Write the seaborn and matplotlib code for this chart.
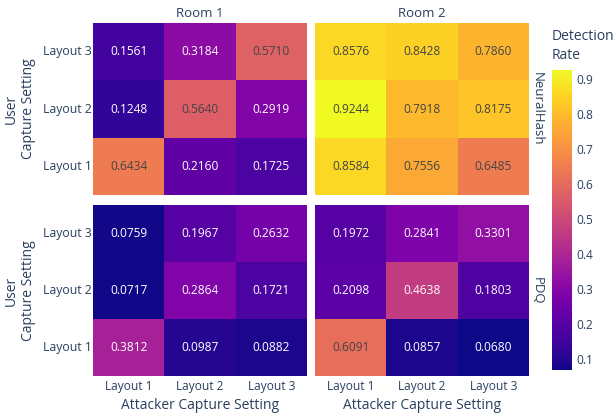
import numpy as np
import pandas as pd
import seaborn as sns
import matplotlib.pyplot as plt

# Data: rows = user capture setting (Layout 1..3), cols = attacker capture setting (Layout 1..3)
layouts = ["Layout 1", "Layout 2", "Layout 3"]
rooms = ["Room 1", "Room 2"]
hashes = ["NeuralHash", "PDQ"]

neuralhash_room1 = [[0.6434, 0.2160, 0.1725],
                    [0.1248, 0.5640, 0.2919],
                    [0.1561, 0.3184, 0.5710]]
neuralhash_room2 = [[0.8584, 0.7556, 0.6485],
                    [0.9244, 0.7918, 0.8175],
                    [0.8576, 0.8428, 0.7860]]
pdq_room1 = [[0.3812, 0.0987, 0.0882],
             [0.0717, 0.2864, 0.1721],
             [0.0759, 0.1967, 0.2632]]
pdq_room2 = [[0.6091, 0.0857, 0.0680],
             [0.2098, 0.4638, 0.1803],
             [0.1972, 0.2841, 0.3301]]

grid = {("NeuralHash", "Room 1"): neuralhash_room1,
        ("NeuralHash", "Room 2"): neuralhash_room2,
        ("PDQ", "Room 1"): pdq_room1,
        ("PDQ", "Room 2"): pdq_room2}

all_vals = np.array(list(grid.values())).ravel()
vmin, vmax = all_vals.min(), all_vals.max()

plt.rcParams['font.family'] = ['Open Sans', 'DejaVu Sans']
TXT = '#2a3f5f'

fig = plt.figure(figsize=(6.15, 4.15), dpi=100)
W, H = 615, 415

def px_axes(x0, y0, x1, y1):
    return fig.add_axes([x0 / W, 1 - y1 / H, (x1 - x0) / W, (y1 - y0) / H])

col_x = {"Room 1": (93, 307), "Room 2": (315, 529)}
row_y = {"NeuralHash": (23, 195), "PDQ": (205, 376)}
cbar_ax = px_axes(552, 70, 572, 370)

first_ax = None
for h in hashes:
    for r in rooms:
        x0, x1 = col_x[r]
        y0, y1 = row_y[h]
        ax = px_axes(x0, y0, x1, y1)
        df = pd.DataFrame(grid[(h, r)], index=layouts, columns=layouts).iloc[::-1]
        sns.heatmap(df, ax=ax, cmap="plasma", vmin=vmin, vmax=vmax,
                    annot=True, fmt=".4f", annot_kws={"size": 8.6},
                    cbar=first_ax is None, cbar_ax=cbar_ax if first_ax is None else None)
        if first_ax is None:
            first_ax = ax
        # text colour by contrast, like plotly
        for t, v in zip(ax.texts, df.values.ravel()):
            t.set_color('#444444' if v > 0.5 else 'white')
        ax.tick_params(axis='x', length=0, labelsize=8.6, labelcolor=TXT, pad=3)
        ax.tick_params(axis='y', length=0, labelsize=8.8, labelcolor=TXT, pad=1)
        ax.set_xlabel("")
        ax.set_ylabel("")
        if r == "Room 1":
            ax.set_yticklabels(ax.get_yticklabels(), rotation=0)
            fig.text(20 / W, 1 - (y0 + y1) / 2 / H, "User\nCapture Setting", rotation=90,
                     ha='center', va='center', fontsize=10, color=TXT, linespacing=1.25)
        else:
            ax.set_yticks([])
        if h == "PDQ":
            ax.set_xticklabels(ax.get_xticklabels(), rotation=0)
            fig.text((x0 + x1) / 2 / W, 1 - 405 / H, "Attacker Capture Setting",
                     ha='center', va='center', fontsize=10, color=TXT)
        else:
            ax.set_xticks([])
            ax.set_title(r, fontsize=9.5, color=TXT, pad=4)
        if r == "Room 2":
            fig.text(537 / W, 1 - (y0 + y1) / 2 / H, h, rotation=-90,
                     ha='center', va='center', fontsize=9.5, color=TXT)

cbar = first_ax.collections[0].colorbar
cbar.outline.set_visible(False)
cbar.set_ticks([0.1, 0.2, 0.3, 0.4, 0.5, 0.6, 0.7, 0.8, 0.9])
cbar_ax.tick_params(length=0, labelsize=8.6, labelcolor=TXT, pad=3)
fig.text(552 / W, 1 - 46 / H, "Detection\nRate", ha='left', va='center',
         fontsize=10, color=TXT, linespacing=1.3)

fig.savefig("out.png", dpi=100)
